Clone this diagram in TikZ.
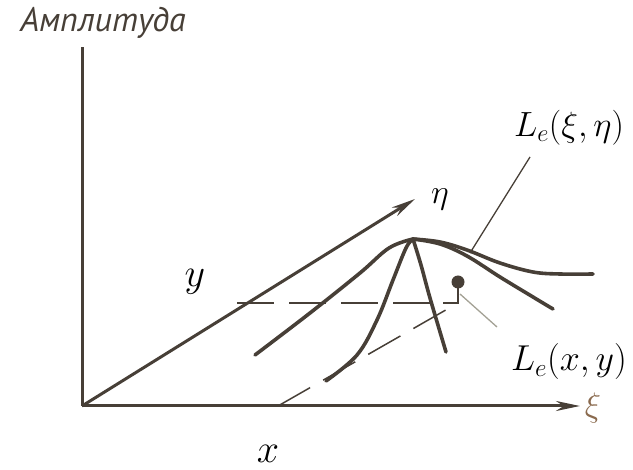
\RequirePackage{fix-cm}
\documentclass[tikz,border=0pt]{standalone}
\usepackage{fontspec}
\newfontfamily\ptsans{PT Sans}
\usetikzlibrary{arrows.meta}
\definecolor{ink}{HTML}{473F37}
\definecolor{leadc}{HTML}{A3A195}
\definecolor{xicol}{HTML}{8A6A4E}
\tikzset{
  axis/.style={draw=ink, line width=3pt},
  axisarrow/.style={axis, -{Stealth[length=24pt,width=10pt]}},
  surf/.style={draw=ink, line width=3.6pt, line cap=round},
  guide/.style={draw=ink, line width=1.5pt, dash pattern=on 37pt off 15pt},
  leader/.style={draw=ink, line width=1.3pt},
  leaderlight/.style={draw=leadc, line width=1.3pt},
  lab/.style={inner sep=0pt, text=black},
}
\begin{document}
\begin{tikzpicture}[x=1pt,y=-1pt]
\useasboundingbox (0,0) rectangle (633,470);
% coordinates
\coordinate (O) at (82,406);
\coordinate (Ytop) at (82,47);
\coordinate (Xend) at (580,406);
\coordinate (Etip) at (415,199);
\coordinate (D1) at (237,303);
\coordinate (D2) at (458,303);
\coordinate (S1) at (278,406);
\coordinate (Dot) at (458,282);
\coordinate (St) at (443,303);
% labels
\node[lab] (amp) at (103,23) {\fontsize{34}{36}\selectfont\ptsans\itshape\color{ink}Амплитуда};
\node[lab] (lxieta) at (569,128) {\fontsize{35}{38}\selectfont$L_e(\xi,\eta)$};
\node[lab] (lxy) at (569,362) {\fontsize{36}{38}\selectfont$L_e(x,y)$};
\node[lab] (eta) at (440,199) {\fontsize{34}{36}\selectfont$\eta$};
\node[lab] (xi) at (593,408) {\fontsize{34}{36}\selectfont\color{xicol}$\xi$};
\node[lab] (ylab) at (195,282) {\fontsize{40}{42}\selectfont$y$};
\node[lab] (xlab) at (268,454) {\fontsize{40}{42}\selectfont$x$};
% axes
\draw[axis] (O) -- (Ytop);
\draw[axisarrow] (O) -- (Xend);
\draw[axisarrow] (O) -- (Etip);
% guides
\draw[guide] (D1) -- (D2);
\draw[guide] (S1) -- (D2);
\draw[ink, line width=1.6pt] (St) -- (D2) -- (Dot);
\fill[ink] (Dot) circle (6.5pt);
\coordinate (Lx1) at (460,294);
\coordinate (Lx2) at (497,327);
\draw[leaderlight] (Lx1) -- (Lx2);
\coordinate (Le1) at (470,253);
\coordinate (Le2) at (530,157);
\draw[leader] (Le1) -- (Le2);
% surface curves
\draw[surf] plot[smooth, tension=0.6] coordinates {(255,355) (310,313) (360,273) (389,248) (413,239)};
\draw[surf] plot[smooth, tension=0.6] coordinates {(413,239) (440,242) (467,250) (500,263) (533,272) (560,274) (593,274)};
\draw[surf] plot[smooth, tension=0.6] coordinates {(413,239) (440,244) (467,256) (500,277) (533,297) (553,309)};
\draw[surf] plot[smooth, tension=0.6] coordinates {(413,239) (421,265) (430,298) (446,352)};
\draw[surf] plot[smooth, tension=0.6] coordinates {(326,381) (357,355) (377,320) (393,280) (406,248) (413,239)};
\end{tikzpicture}
\end{document}
